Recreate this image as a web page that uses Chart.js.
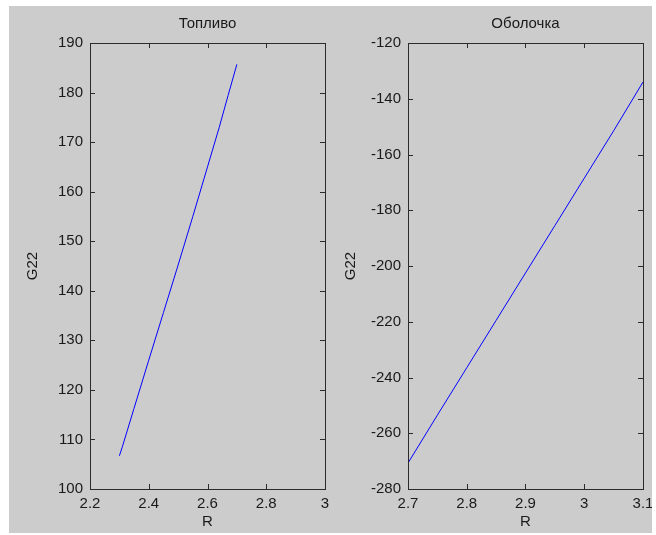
<!DOCTYPE html>
<html>
<head>
<meta charset="utf-8">
<script src="https://cdn.jsdelivr.net/npm/chart.js@4/dist/chart.umd.min.js"></script>
<style>
  body { margin: 0; background: #fff; }
  #fig { position: absolute; left: 9px; top: 6px; width: 643px; height: 527px; background: #cccccc; }
  canvas { position: absolute; top: 0; }
  #c1 { left: 0; }
  #c2 { left: 320px; }
</style>
</head>
<body>
<div id="fig">
  <canvas id="c1" width="320" height="526"></canvas>
  <canvas id="c2" width="323" height="526"></canvas>
</div>
<script>
// Данные: топливо
var rFuel = [2.30, 2.31, 2.35, 2.40, 2.45, 2.50, 2.55, 2.60, 2.64, 2.67, 2.70];
var gFuel = [106.7, 108.5, 116.3, 126, 135.6, 145.2, 155, 165, 173, 179.4, 185.7];
var fuelXTicks = [2.2, 2.4, 2.6, 2.8, 3];
var fuelYTicks = [100, 110, 120, 130, 140, 150, 160, 170, 180, 190];

// Данные: оболочка
var rShell = [2.70, 2.75, 2.80, 2.85, 2.90, 2.95, 3.00, 3.05, 3.10];
var gShell = [-270.7, -253.5, -236.5, -219.5, -202.5, -185.5, -168.5, -151.5, -134];
var shellXTicks = [2.7, 2.8, 2.9, 3, 3.1];
var shellYTicks = [-280, -260, -240, -220, -200, -180, -160, -140, -120];

var FONT = { family: '"Liberation Sans", Arial, sans-serif', size: 15 };
var TEXT = '#1a1a1a';

// рамка, внутренние засечки и заголовок в стиле MATLAB
var matlabAxes = {
    id: 'matlabAxes',
    afterDraw: function(chart, args, opts) {
        var ctx = chart.ctx, a = chart.chartArea;
        var x = chart.scales.x, y = chart.scales.y;
        var tl = 5;
        ctx.save();
        ctx.strokeStyle = '#2b2b2b';
        ctx.lineWidth = 1;
        ctx.strokeRect(a.left + 0.5, a.top + 0.5, a.right - a.left, a.bottom - a.top);
        ctx.beginPath();
        x.ticks.forEach(function(t) {
            var px = Math.round(x.getPixelForValue(t.value)) + 0.5;
            ctx.moveTo(px, a.bottom); ctx.lineTo(px, a.bottom - tl);
            ctx.moveTo(px, a.top); ctx.lineTo(px, a.top + tl);
        });
        y.ticks.forEach(function(t) {
            var py = Math.round(y.getPixelForValue(t.value)) + 0.5;
            ctx.moveTo(a.left, py); ctx.lineTo(a.left + tl, py);
            ctx.moveTo(a.right, py); ctx.lineTo(a.right - tl, py);
        });
        ctx.stroke();
        ctx.fillStyle = TEXT;
        ctx.font = FONT.size + 'px ' + FONT.family;
        ctx.textAlign = 'center';
        ctx.textBaseline = 'middle';
        ctx.fillText(opts.text, (a.left + a.right) / 2, a.top - 19);
        ctx.restore();
    }
};

function fmt(v) { return String(+v.toFixed(3)); }

function makeChart(id, title, rs, gs, xTicks, yTicks, yWidth, yTitlePad, rightPad) {
    var pts = rs.map(function(r, i) { return { x: r, y: gs[i] }; });
    return new Chart(document.getElementById(id), {
        type: 'line',
        data: {
            datasets: [{
                data: pts,
                borderColor: '#0000ff',
                borderWidth: 1,
                pointRadius: 0,
                tension: 0,
                fill: false
            }]
        },
        options: {
            responsive: false,
            animation: false,
            layout: { padding: { left: 0, right: rightPad, top: 37, bottom: 0 } },
            plugins: {
                legend: { display: false },
                tooltip: { enabled: false },
                matlabAxes: { text: title }
            },
            scales: {
                x: {
                    type: 'linear',
                    min: xTicks[0],
                    max: xTicks[xTicks.length - 1],
                    grid: { display: false, drawTicks: false },
                    border: { display: false },
                    afterBuildTicks: function(s) { s.ticks = xTicks.map(function(v) { return { value: v }; }); },
                    afterFit: function(s) { s.height = 43; s.paddingLeft = 0; s.paddingRight = 0; },
                    ticks: { color: TEXT, font: FONT, padding: 6, maxRotation: 0, autoSkip: false, callback: fmt },
                    title: { display: true, text: 'R', color: TEXT, font: FONT, padding: { top: 0, bottom: 1 } }
                },
                y: {
                    type: 'linear',
                    min: yTicks[0],
                    max: yTicks[yTicks.length - 1],
                    grid: { display: false, drawTicks: false },
                    border: { display: false },
                    afterBuildTicks: function(s) { s.ticks = yTicks.map(function(v) { return { value: v }; }); },
                    afterFit: function(s) { s.width = yWidth; s.paddingTop = 0; s.paddingBottom = 0; },
                    ticks: { color: TEXT, font: FONT, padding: 7, autoSkip: false, callback: fmt },
                    title: { display: true, text: 'G22', color: TEXT, font: FONT, padding: { top: yTitlePad, bottom: 0 } }
                }
            }
        },
        plugins: [matlabAxes]
    });
}

makeChart('c1', 'Топливо', rFuel, gFuel, fuelXTicks, fuelYTicks, 81, 15, 4);
makeChart('c2', 'Оболочка', rShell, gShell, shellXTicks, shellYTicks, 79, 13, 9);
</script>
</body>
</html>
